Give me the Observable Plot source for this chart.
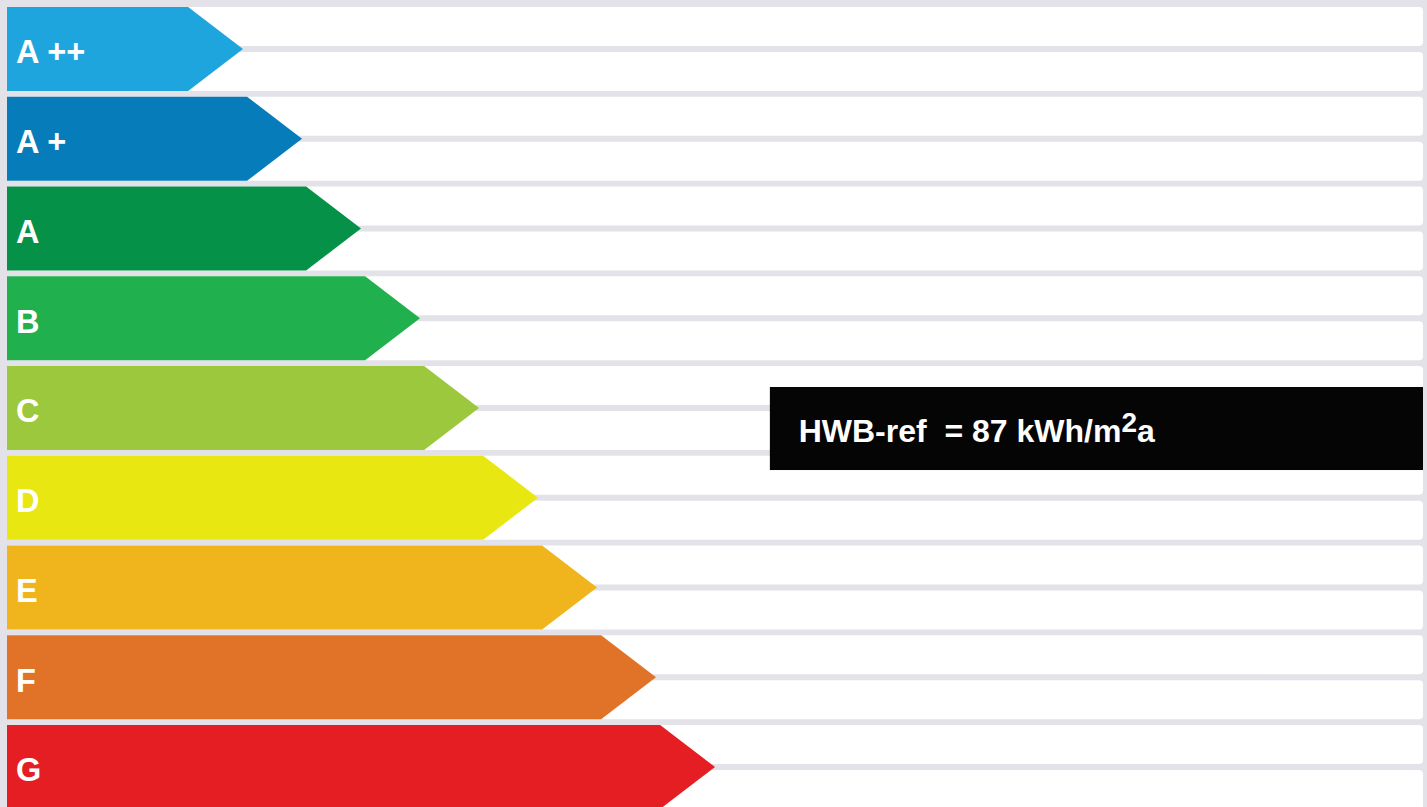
<!DOCTYPE html>
<html>
<head>
<meta charset="utf-8">
<script src="https://cdn.jsdelivr.net/npm/d3@7"></script>
<script src="https://cdn.jsdelivr.net/npm/@observablehq/plot@0.6"></script>
<style>
  html, body { margin: 0; padding: 0; background: #e2e2e8; overflow: hidden; }
  #chart svg { display: block; }
</style>
</head>
<body>
<div id="chart"></div>
<script>
// ---- data ----
const classes = ["A ++", "A +", "A", "B", "C", "D", "E", "F", "G"];
const colors = ["#1fa5de", "#067dba", "#059148", "#20b04d", "#9bc83d", "#e9e712", "#f0b51d", "#e07327", "#e51e24"];
const upperLimits = [10, 15, 25, 50, 100, 150, 200, 250, Infinity]; // kWh/m²a per class
const hwbValue = 87;
const hwbLabelMain = "HWB-ref  = " + hwbValue + " kWh/m";
const hwbLabelSup = "2";
const hwbLabelEnd = "a";

// ---- layout helpers (in scale units) ----
const bandH = 84 / 89.75;       // class band height relative to step
const baseLen = 3.07;           // arrow body length of first class
const tipLen = 0.93;            // arrow tip length

const arrowPts = classes.flatMap((c, i) => [
  {cls: c, y: i, x2: baseLen + i},
  {cls: c, y: i + bandH / 2, x2: baseLen + i + tipLen},
  {cls: c, y: i + bandH, x2: baseLen + i}
]);

const strips = classes.flatMap((c, i) => [
  {y1: i, y2: i + 39 / 89.75},
  {y1: i + 45 / 89.75, y2: i + bandH}
]);

const hwbIdx = upperLimits.findIndex(l => hwbValue <= l);
const hwb = [{idx: hwbIdx}];

const chart = Plot.plot({
  width: 1427,
  height: 807,
  margin: 0,
  style: {background: "#e2e2e8"},
  x: {domain: [0, 24], range: [7, 1423], axis: null},
  y: {domain: [0, 9], range: [7, 7 + 89.75 * 9], axis: null},
  color: {domain: classes, range: colors},
  marks: [
    Plot.rect(strips, {x1: 0, x2: 24, y1: "y1", y2: "y2", fill: "white", rx: 4}),
    Plot.areaX(arrowPts, {x1: 0, x2: "x2", y: "y", z: "cls", fill: "cls", curve: "linear"}),
    Plot.text(classes, {
      x: 0, y: (d, i) => i + 0.49, text: d => d, dx: 8.5, dy: 1.5,
      textAnchor: "start", fill: "white", fontSize: 32.5, fontWeight: "bold",
      fontFamily: "'Liberation Sans', Arial, sans-serif"
    }),
    Plot.rect(hwb, {x1: 12.93, x2: 24, y1: d => d.idx + 0.234, y2: d => d.idx + 1.159, fill: "#050505"}),
    Plot.text(hwb, {
      x: 13.41, y: d => d.idx + 0.696, text: d => hwbLabelMain, dy: 3,
      textAnchor: "start", fill: "white", fontSize: 32, fontWeight: "bold",
      fontFamily: "'Liberation Sans', Arial, sans-serif", className: "hwb-label"
    })
  ]
});

// add superscript to the HWB label
d3.select(chart).selectAll(".hwb-label text").each(function() {
  const t = d3.select(this);
  const txt = t.text();
  t.text(null).style("white-space", "pre");
  t.append("tspan").text(txt);
  t.append("tspan").attr("dy", "-10").attr("font-size", 28).text(hwbLabelSup);
  t.append("tspan").attr("dy", "10").text(hwbLabelEnd);
});

document.getElementById("chart").appendChild(chart);
</script>
</body>
</html>
